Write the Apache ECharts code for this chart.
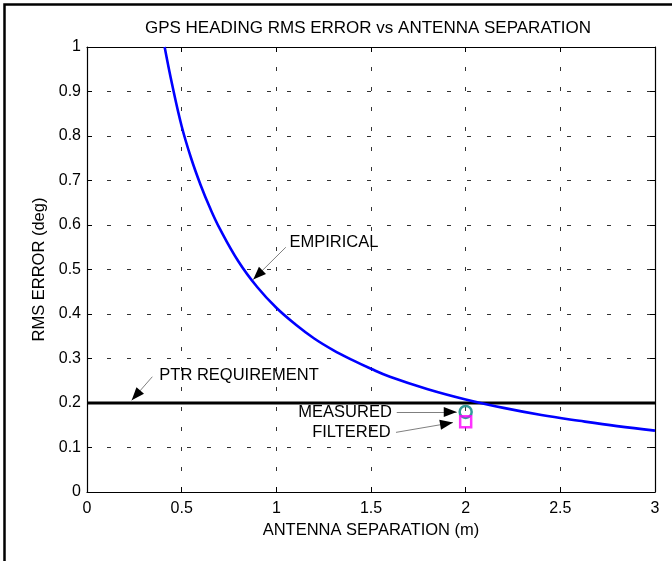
<!DOCTYPE html>
<html>
<head>
<meta charset="utf-8">
<script src="https://cdn.jsdelivr.net/npm/echarts@6/dist/echarts.min.js"></script>
<style>
html,body{margin:0;padding:0;background:#fff;}
#c{width:672px;height:561px;}
</style>
</head>
<body>
<div id="c"></div>
<script>
// Empirical curve (antenna separation m, RMS error deg)
var sepX = [0.41, 0.45, 0.5, 0.55, 0.6, 0.65, 0.7, 0.8, 0.9, 1.0, 1.1, 1.2, 1.3, 1.4, 1.5, 1.6, 1.8, 2.0, 2.2, 2.4, 2.6, 2.8, 3.0];
var errY = [1.0, 0.915, 0.822, 0.75, 0.69, 0.638, 0.593, 0.518, 0.46, 0.414, 0.377, 0.345, 0.319, 0.297, 0.277, 0.259, 0.231, 0.208, 0.189, 0.173, 0.16, 0.148, 0.138];
// PTR requirement level
var ptrX = [0, 3];
var ptrY = [0.2, 0.2];
// Measured and filtered points
var measured = [2, 0.18];
var filtered = [2, 0.158];
// Axis ticks
var xTicks = [0, 0.5, 1, 1.5, 2, 2.5, 3];
var yTicks = [0, 0.1, 0.2, 0.3, 0.4, 0.5, 0.6, 0.7, 0.8, 0.9, 1];
// Text
var titleText = 'GPS HEADING RMS ERROR vs ANTENNA SEPARATION';
var xName = 'ANTENNA SEPARATION (m)';
var yName = 'RMS ERROR (deg)';
// Annotations (data coordinates): label anchor, arrow tail, arrow tip
var notes = [
  {text: 'EMPIRICAL', at: [1.069, 0.561], align: 'left', from: [1.05, 0.55], to: [0.878, 0.4775]},
  {text: 'PTR REQUIREMENT', at: [0.382, 0.262], align: 'left', from: [0.345, 0.259], to: [0.236, 0.206]},
  {text: 'MEASURED', at: [1.610, 0.179], align: 'right', from: [1.636, 0.18], to: [1.953, 0.18]},
  {text: 'FILTERED', at: [1.604, 0.133], align: 'right', from: [1.632, 0.134], to: [1.933, 0.156]}
];

var FONT = 'Liberation Sans, Arial, Helvetica, sans-serif';
var chart = echarts.init(document.getElementById('c'), null, {renderer: 'canvas'});

function curveData() { return sepX.map(function (x, i) { return [x, errY[i]]; }); }
function ptrData() { return ptrX.map(function (x, i) { return [x, ptrY[i]]; }); }

var gridLine = {show: true, lineStyle: {color: '#333', width: 1, type: [4, 16]}};
var baseAxis = {
  min: 0,
  axisLine: {show: true, onZero: false, lineStyle: {color: '#000', width: 1.2}},
  axisTick: {show: true, inside: true, length: 5, lineStyle: {color: '#000'}},
  axisLabel: {color: '#000', fontFamily: FONT, fontSize: 16}
};

var option = {
  animation: false,
  backgroundColor: '#fff',
  title: {
    text: titleText, left: 363, top: 15, textAlign: 'center',
    textStyle: {fontFamily: FONT, fontSize: 17, fontWeight: 'normal', color: '#000'}
  },
  grid: {left: 87, right: 17, top: 47, bottom: 69},
  xAxis: [
    Object.assign({}, baseAxis, {
      type: 'value', max: 3, interval: 0.5, position: 'bottom',
      axisLabel: Object.assign({}, baseAxis.axisLabel, {margin: 9, formatter: function (v) { return String(v); }}),
      splitLine: gridLine,
      name: xName, nameLocation: 'middle', nameGap: 30,
      nameTextStyle: {fontFamily: FONT, fontSize: 16.5, color: '#000'}
    }),
    Object.assign({}, baseAxis, {
      type: 'value', max: 3, interval: 0.5, position: 'top',
      axisLabel: {show: false}, splitLine: {show: false}
    })
  ],
  yAxis: [
    Object.assign({}, baseAxis, {
      type: 'value', max: 1, interval: 0.1, position: 'left',
      axisLabel: Object.assign({}, baseAxis.axisLabel, {margin: 6, formatter: function (v) { return String(Math.round(v * 10) / 10); }}),
      splitLine: gridLine,
      name: yName, nameLocation: 'middle', nameGap: 37, nameRotate: 90,
      nameTextStyle: {fontFamily: FONT, fontSize: 16.5, color: '#000'}
    }),
    Object.assign({}, baseAxis, {
      type: 'value', max: 1, interval: 0.1, position: 'right',
      axisLabel: {show: false}, splitLine: {show: false}
    })
  ],
  series: [
    {
      type: 'line', name: 'EMPIRICAL', data: curveData(), smooth: 0.4, showSymbol: false,
      lineStyle: {color: '#0000ff', width: 2.6}, clip: true, z: 3
    },
    {
      type: 'line', name: 'PTR', data: ptrData(), showSymbol: false,
      lineStyle: {color: '#000', width: 3}, z: 2
    },
    {
      type: 'scatter', name: 'MEASURED', data: [measured], symbol: 'circle', symbolSize: 12,
      itemStyle: {color: 'rgba(0,0,0,0)', borderColor: '#008080', borderWidth: 2.5}, z: 4
    },
    {
      type: 'scatter', name: 'FILTERED', data: [filtered], symbol: 'rect', symbolSize: 11,
      itemStyle: {color: 'rgba(0,0,0,0)', borderColor: '#ff00ff', borderWidth: 2.5}, z: 4
    },
    {
      type: 'lines', coordinateSystem: 'cartesian2d', z: 5,
      symbol: ['none', 'none'],
      lineStyle: {color: '#000', width: 1},
      data: notes.map(function (n) { return {coords: [n.from, n.to]}; })
    }
  ]
};
chart.setOption(option);

// annotation labels and arrowheads placed via the chart's own coordinate conversion
function buildGraphics() {
  var g = [];
  notes.forEach(function (n) {
    var p = chart.convertToPixel({gridIndex: 0}, n.at);
    g.push({
      type: 'text', x: p[0], y: p[1], z: 10,
      style: {text: n.text, fill: '#000', font: '16.5px ' + FONT, textAlign: n.align, textVerticalAlign: 'middle'}
    });
    var a = chart.convertToPixel({gridIndex: 0}, n.from);
    var b = chart.convertToPixel({gridIndex: 0}, n.to);
    var ang = Math.atan2(b[1] - a[1], b[0] - a[0]);
    var L = 13, W = 5;
    var bx = b[0] - L * Math.cos(ang), by = b[1] - L * Math.sin(ang);
    var nx = -Math.sin(ang), ny = Math.cos(ang);
    g.push({
      type: 'polygon', z: 10,
      shape: {points: [[b[0], b[1]], [bx + W * nx, by + W * ny], [bx - W * nx, by - W * ny]]},
      style: {fill: '#000'}
    });
  });
  // figure frame
  g.push({type: 'rect', z: 10, shape: {x: 4.5, y: 4.5, width: 720, height: 620},
          style: {fill: 'none', stroke: '#000', lineWidth: 2.5}});
  return g;
}
chart.setOption({graphic: buildGraphics()});
</script>
</body>
</html>
